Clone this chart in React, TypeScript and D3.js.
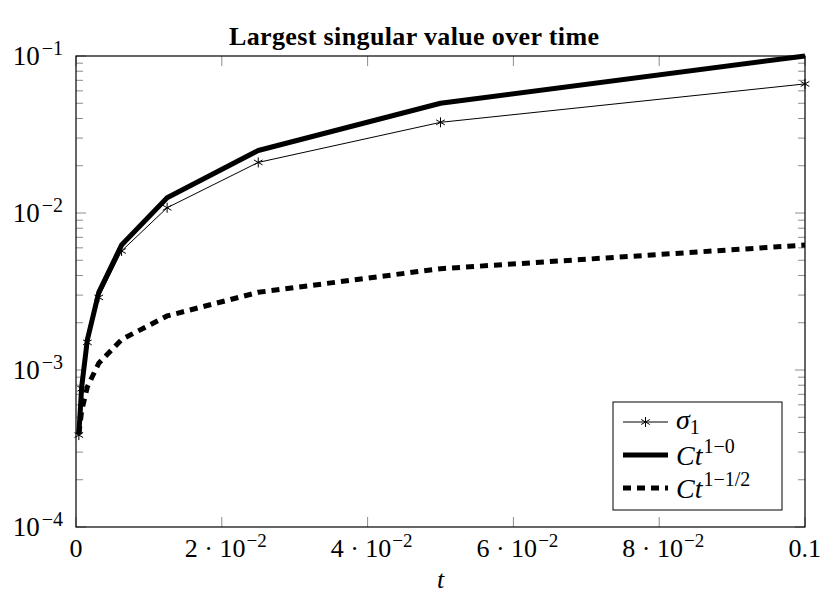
import React from "react";
import * as d3 from "d3";

const T = [0.000390625, 0.00078125, 0.0015625, 0.003125, 0.00625, 0.0125, 0.025, 0.05, 0.1];
const SIGMA1 = [3.85e-4, 7.6e-4, 1.5e-3, 2.9e-3, 5.73e-3, 1.08e-2, 2.1e-2, 3.78e-2, 6.64e-2];
const CT_ONE = [3.90625e-4, 7.8125e-4, 1.5625e-3, 3.125e-3, 6.25e-3, 1.25e-2, 2.5e-2, 5e-2, 0.1];
const CT_HALF = [3.906e-4, 5.524e-4, 7.813e-4, 1.105e-3, 1.563e-3, 2.21e-3, 3.125e-3, 4.419e-3, 6.25e-3];

const X_TICKS = [0, 0.02, 0.04, 0.06, 0.08, 0.1];
const X_TICK_MANT = ["0", "2", "4", "6", "8", "0.1"];
const Y_DECADES = [1e-4, 1e-3, 1e-2, 1e-1];
const Y_EXP = ["−4", "−3", "−2", "−1"];

const TITLE = "Largest singular value over time";
const W = 820, H = 601;
const L = 76, R = 805, TOP = 56, BOT = 527;
const FONT = "'Liberation Serif', 'Times New Roman', serif";
const FS = 26;
const SUP = 19;

function Asterisk({ cx, cy, r = 5 }: { cx: number; cy: number; r?: number }) {
  const angs = [90, 30, 150];
  return (
    <g stroke="#000" strokeWidth={1}>
      {angs.map((a) => {
        const dx = r * Math.cos((a * Math.PI) / 180);
        const dy = r * Math.sin((a * Math.PI) / 180);
        return <line key={a} x1={cx - dx} y1={cy - dy} x2={cx + dx} y2={cy + dy} />;
      })}
    </g>
  );
}

export default function App() {
  const x = d3.scaleLinear().domain([0, 0.1]).range([L, R]);
  const y = d3.scaleLog().domain([1e-4, 1e-1]).range([BOT, TOP]);
  const line = d3
    .line<[number, number]>()
    .x((d) => x(d[0]))
    .y((d) => y(d[1]));
  const sig = T.map((t, i) => [t, SIGMA1[i]] as [number, number]);
  const c1 = T.map((t, i) => [t, CT_ONE[i]] as [number, number]);
  const ch = T.map((t, i) => [t, CT_HALF[i]] as [number, number]);

  const minor: number[] = [];
  for (let e = -4; e < -1; e++) for (let m = 2; m <= 9; m++) minor.push(m * Math.pow(10, e));

  const tickColor = "#8c8c8c";
  const lx0 = 623, lx1 = 668, ltx = 676;
  const rows = [422, 455, 488];
  const LFS = 28, LSUP = 20;
  const last = X_TICKS.length - 1;

  return (
    <svg width={W} height={H} style={{ position: "absolute", left: 0, top: 0, background: "#fff" }} fontFamily={FONT}>
      <rect x={0} y={0} width={W} height={H} fill="#fff" />
      <text x={414} y={45} textAnchor="middle" fontWeight="bold" fontSize={26} textLength={370} lengthAdjust="spacing">
        {TITLE}
      </text>

      {/* ticks */}
      <g stroke={tickColor} strokeWidth={1}>
        {X_TICKS.map((t, i) => (
          <g key={i}>
            <line x1={x(t)} x2={x(t)} y1={BOT} y2={BOT - 10} />
            <line x1={x(t)} x2={x(t)} y1={TOP} y2={TOP + 10} />
          </g>
        ))}
        {Y_DECADES.map((v, i) => (
          <g key={i}>
            <line x1={L} x2={L + 10} y1={y(v)} y2={y(v)} />
            <line x1={R} x2={R - 10} y1={y(v)} y2={y(v)} />
          </g>
        ))}
        {minor.map((v, i) => (
          <g key={i}>
            <line x1={L} x2={L + 7} y1={y(v)} y2={y(v)} />
            <line x1={R} x2={R - 7} y1={y(v)} y2={y(v)} />
          </g>
        ))}
      </g>

      {/* data */}
      <path d={line(sig) ?? ""} fill="none" stroke="#000" strokeWidth={1} />
      <path d={line(c1) ?? ""} fill="none" stroke="#000" strokeWidth={5} strokeLinejoin="round" />
      <path d={line(ch) ?? ""} fill="none" stroke="#000" strokeWidth={5} strokeDasharray="8 6" />
      {sig.map((d, i) => (
        <Asterisk key={i} cx={x(d[0])} cy={y(d[1])} />
      ))}

      {/* frame */}
      <rect x={L} y={TOP} width={R - L} height={BOT - TOP} fill="none" stroke="#000" strokeWidth={1.2} />

      {/* x tick labels */}
      {X_TICKS.map((t, i) => (
        <text
          key={i}
          x={x(t)}
          y={557}
          textAnchor={i === last ? "end" : "middle"}
          dx={i === last ? 16 : i === 0 ? 0 : 4}
          fontSize={FS}
        >
          {i === 0 || i === last ? (
            X_TICK_MANT[i]
          ) : (
            <>
              <tspan>{X_TICK_MANT[i]} · 10</tspan>
              <tspan dy={-10} dx={1} fontSize={SUP}>−2</tspan>
            </>
          )}
        </text>
      ))}
      {/* y tick labels */}
      {Y_DECADES.map((v, i) => (
        <text key={i} x={63} y={y(v) + 9} textAnchor="end" fontSize={27}>
          <tspan>10</tspan>
          <tspan dy={-10} dx={2} fontSize={20}>{Y_EXP[i]}</tspan>
        </text>
      ))}

      <text x={(L + R) / 2} y={588} textAnchor="middle" fontSize={FS} fontStyle="italic">
        t
      </text>

      {/* legend */}
      <rect x={613} y={402} width={169} height={108} fill="#fff" stroke="#000" strokeWidth={1} />
      <line x1={lx0} x2={lx1} y1={rows[0]} y2={rows[0]} stroke="#000" strokeWidth={1} />
      <Asterisk cx={(lx0 + lx1) / 2} cy={rows[0]} />
      <line x1={lx0} x2={lx1} y1={rows[1]} y2={rows[1]} stroke="#000" strokeWidth={5} />
      <line x1={lx0} x2={lx1} y1={rows[2]} y2={rows[2]} stroke="#000" strokeWidth={5} strokeDasharray="8 6" />
      <text x={ltx} y={rows[0] + 7} fontSize={LFS}>
        <tspan fontStyle="italic">σ</tspan>
        <tspan fontSize={LSUP} dy={5}>1</tspan>
      </text>
      <text x={ltx} y={rows[1] + 10} fontSize={LFS}>
        <tspan fontStyle="italic">Ct</tspan>
        <tspan fontSize={LSUP} dy={-12} dx={1}>1−0</tspan>
      </text>
      <text x={ltx} y={rows[2] + 10} fontSize={LFS}>
        <tspan fontStyle="italic">Ct</tspan>
        <tspan fontSize={LSUP} dy={-12} dx={1}>1−1/2</tspan>
      </text>
    </svg>
  );
}
